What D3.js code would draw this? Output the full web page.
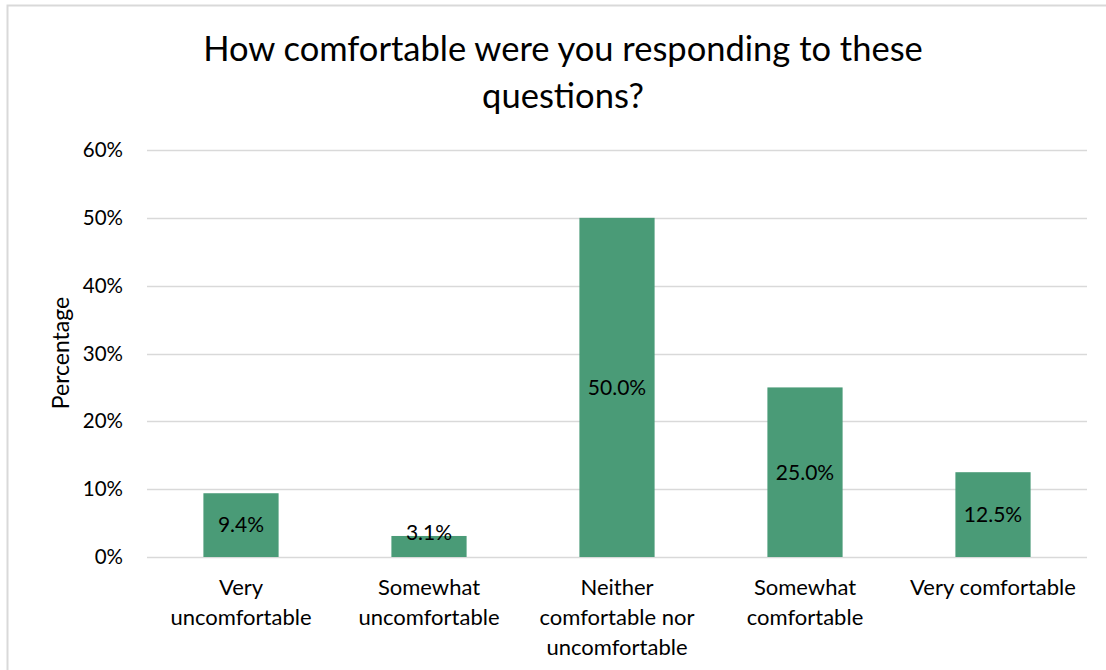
<!DOCTYPE html>
<html>
<head>
<meta charset="utf-8">
<script src="https://cdn.jsdelivr.net/npm/d3@7"></script>
<style>
  html, body { margin: 0; padding: 0; background: #fff; }
  svg { display: block; }
  text { font-family: "Lato", "Open Sans", sans-serif; fill: #000; }
</style>
</head>
<body>
<svg id="chart" width="1106" height="670"></svg>
<script>
// Survey responses: comfort level when answering the questions
const categories = [
  ["Very", "uncomfortable"],
  ["Somewhat", "uncomfortable"],
  ["Neither", "comfortable nor", "uncomfortable"],
  ["Somewhat", "comfortable"],
  ["Very comfortable"]
];
const values = [9.4, 3.1, 50.0, 25.0, 12.5];
const yTicks = [0, 10, 20, 30, 40, 50, 60];
const titleLines = ["How comfortable were you responding to these", "questions?"];
const yAxisTitle = "Percentage";

const svg = d3.select("#chart");
const margin = { left: 147, right: 1087, top: 150, bottom: 557 };

// Outer frame (only top and left edges are inside the view)
svg.append("rect")
  .attr("x", 7.5).attr("y", 5.5)
  .attr("width", 1200).attr("height", 800)
  .attr("fill", "none")
  .attr("stroke", "#d9d9d9")
  .attr("stroke-width", 2);

const x = d3.scaleBand()
  .domain(d3.range(categories.length))
  .range([margin.left, margin.right])
  .paddingInner(0.6)
  .paddingOuter(0.3);

const y = d3.scaleLinear()
  .domain([0, 60])
  .range([margin.bottom, margin.top]);

// Gridlines
svg.append("g")
  .selectAll("line")
  .data(yTicks)
  .join("line")
  .attr("x1", margin.left).attr("x2", margin.right)
  .attr("y1", d => Math.round(y(d)) + 0.5)
  .attr("y2", d => Math.round(y(d)) + 0.5)
  .attr("stroke", "#d9d9d9")
  .attr("stroke-width", 1.5);

// Y axis tick labels
const yAxis = d3.axisLeft(y)
  .tickValues(yTicks)
  .tickFormat(d => d + "%")
  .tickSize(0)
  .tickPadding(24);
const gy = svg.append("g")
  .attr("transform", `translate(${margin.left},0)`)
  .call(yAxis);
gy.select(".domain").remove();
gy.selectAll("text")
  .style("font-family", "Lato, 'Open Sans', sans-serif")
  .style("font-size", "20.5px")
  .attr("fill", "#000");

// Bars
svg.append("g")
  .selectAll("rect")
  .data(values)
  .join("rect")
  .attr("x", (d, i) => x(i))
  .attr("width", x.bandwidth())
  .attr("y", d => y(d))
  .attr("height", d => y(0) - y(d))
  .attr("fill", "#4a9b77");

// Value labels, centred in each bar (kept clear of the baseline)
svg.append("g")
  .selectAll("text")
  .data(values)
  .join("text")
  .attr("x", (d, i) => x(i) + x.bandwidth() / 2)
  .attr("y", d => Math.min((y(d) + y(0)) / 2, y(0) - 24))
  .attr("dy", "0.35em")
  .attr("text-anchor", "middle")
  .style("font-size", "21px")
  .text(d => d.toFixed(1) + "%");

// Category labels
const cat = svg.append("g")
  .selectAll("text")
  .data(categories)
  .join("text")
  .attr("text-anchor", "middle")
  .style("font-size", "22px")
  .attr("transform", (d, i) => `translate(${x(i) + x.bandwidth() / 2},595)`);
cat.selectAll("tspan")
  .data(d => d)
  .join("tspan")
  .attr("x", 0)
  .attr("y", (d, j) => j * 30)
  .text(d => d);

// Y axis title
svg.append("text")
  .attr("transform", "translate(69,353) rotate(-90)")
  .attr("text-anchor", "middle")
  .style("font-size", "23px")
  .text(yAxisTitle);

// Chart title
svg.append("g")
  .selectAll("text")
  .data(titleLines)
  .join("text")
  .attr("x", 563)
  .attr("y", (d, i) => 61 + i * 47)
  .attr("text-anchor", "middle")
  .style("font-size", "34.5px")
  .text(d => d);
</script>
</body>
</html>
